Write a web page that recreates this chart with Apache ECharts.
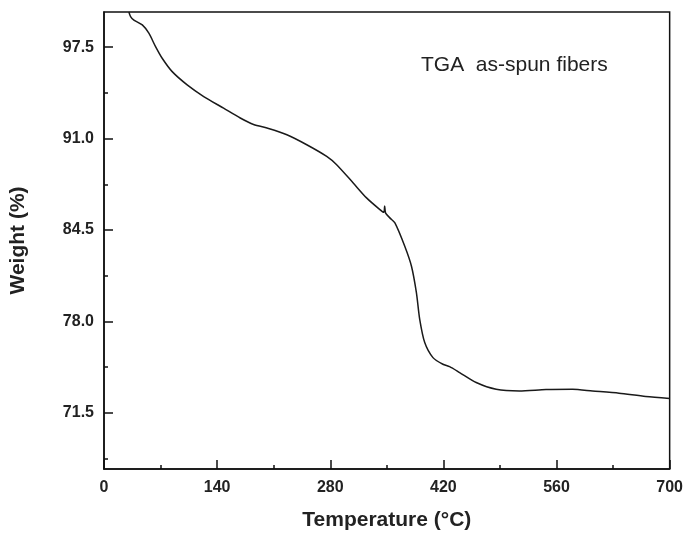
<!DOCTYPE html>
<html>
<head>
<meta charset="utf-8">
<script src="https://cdn.jsdelivr.net/npm/echarts@6/dist/echarts.min.js"></script>
<style>
  html, body { margin: 0; padding: 0; background: #fff; }
  #main { width: 686px; height: 536px; }
</style>
</head>
<body>
<div id="main"></div>
<script>
// values
var temperature = [30.8, 32.9, 37.0, 47.4, 55.5, 63.8, 72.0, 84.4, 102.9, 123.4, 148.0, 168.6, 185.1, 203.6,
  226.3, 250.9, 275.6, 287.9, 308.4, 324.9, 341.4, 346.3, 347.3, 348.5, 353.7, 360.0, 372.2, 380.5, 386.6, 390.7,
  396.9, 407.1, 419.4, 427.7, 440.1, 460.6, 485.3, 514.0, 547.0, 579.8, 604.5, 637.4, 670.4, 700];
var weight = [100.0, 99.67, 99.43, 99.08, 98.49, 97.54, 96.71, 95.76, 94.82, 93.99, 93.16, 92.46, 92.0, 91.72,
  91.27, 90.56, 89.73, 89.14, 87.84, 86.78, 85.95, 85.76, 86.2, 85.7, 85.36, 85.0, 83.34, 81.92, 80.04, 78.14,
  76.49, 75.42, 74.95, 74.78, 74.36, 73.65, 73.17, 73.05, 73.15, 73.17, 73.05, 72.89, 72.65, 72.52];

var yTicks = [71.5, 78.0, 84.5, 91.0, 97.5];
var yMinor = [68.25, 74.75, 81.25, 87.75, 94.25];
var xTicks = [0, 140, 280, 420, 560, 700];

var pts = [];
for (var i = 0; i < temperature.length; i++) {
  pts.push([temperature[i], weight[i]]);
}

var lblFont = {
  color: '#222',
  fontFamily: 'Liberation Sans',
  fontWeight: 'bold',
  fontSize: 16
};
var nameFont = { color: '#222', fontFamily: 'Liberation Sans', fontWeight: 'bold', fontSize: 21 };

var myChart = echarts.init(document.getElementById('main'));
var option = {
  animation: false,
  grid: {
    left: 103, right: 16, top: 12, bottom: 66,
    show: true, borderColor: '#111', borderWidth: 1.5
  },
  xAxis: {
    type: 'value',
    min: 0, max: 700, interval: 140,
    name: 'Temperature (\u00b0C)',
    nameLocation: 'middle',
    nameGap: 41,
    nameTextStyle: nameFont,
    axisLine: { lineStyle: { color: '#111', width: 1.5 } },
    axisTick: { inside: true, length: 9, lineStyle: { color: '#111', width: 1.5 } },
    minorTick: { show: true, splitNumber: 2, length: 4, lineStyle: { color: '#111', width: 1.5 } },
    axisLabel: Object.assign({ margin: 11 }, lblFont),
    splitLine: { show: false }
  },
  yAxis: [
    {
      type: 'value',
      min: 67.5, max: 100,
      name: 'Weight (%)',
      nameLocation: 'middle',
      nameGap: 75,
      nameTextStyle: nameFont,
      axisLine: { lineStyle: { color: '#111', width: 1.5 } },
      axisTick: { inside: true, length: 9, customValues: yTicks, lineStyle: { color: '#111', width: 1.5 } },
      axisLabel: Object.assign({
        margin: 10,
        customValues: yTicks,
        formatter: function (v) { return v.toFixed(1); }
      }, lblFont),
      splitLine: { show: false }
    },
    {
      type: 'value',
      min: 67.5, max: 100,
      position: 'left',
      axisLine: { show: false },
      axisTick: { inside: true, length: 4, customValues: yMinor, lineStyle: { color: '#111', width: 1.5 } },
      axisLabel: { show: false, customValues: yMinor },
      splitLine: { show: false }
    }
  ],
  graphic: [
    {
      type: 'text',
      left: 421,
      top: 55,
      style: {
        text: 'TGA  as-spun fibers',
        fill: '#222',
        font: '21px "Liberation Sans"'
      }
    }
  ],
  series: [
    {
      name: 'TGA',
      type: 'line',
      data: pts,
      smooth: 0.25,
      showSymbol: false,
      lineStyle: { color: '#1a1a1a', width: 1.5 }
    }
  ]
};
myChart.setOption(option);
</script>
</body>
</html>
